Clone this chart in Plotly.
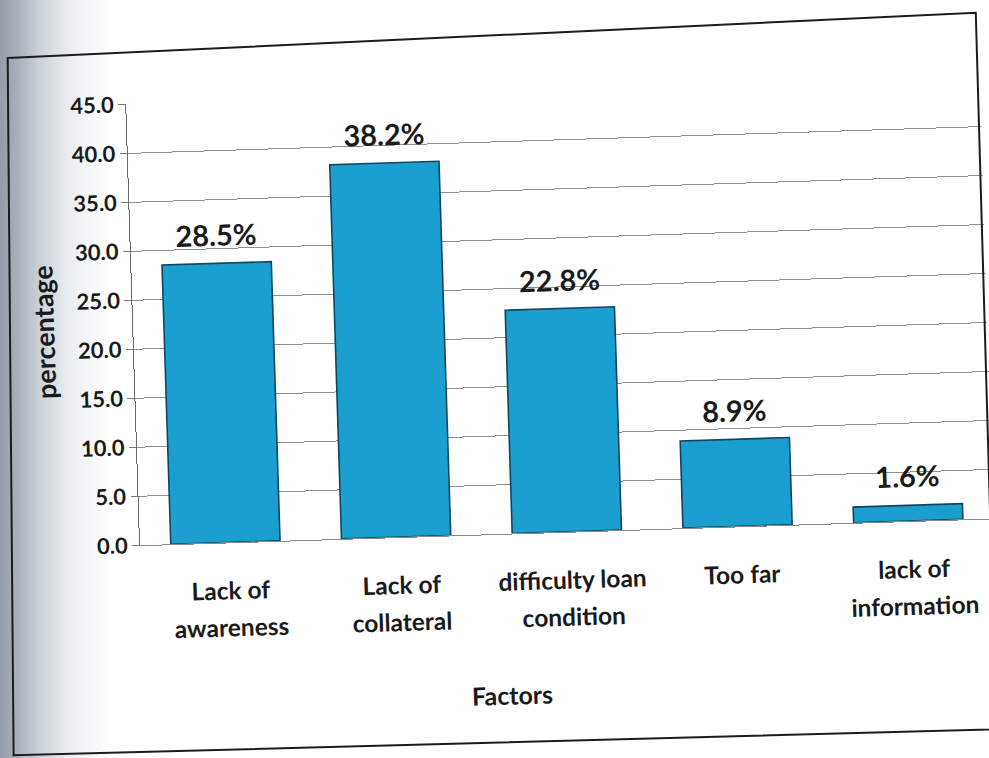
import plotly.graph_objects as go

# Survey results: factors limiting access to credit
categories = ["Lack of<br>awareness", "Lack of<br>collateral", "difficulty loan<br>condition",
              "Too far", "lack of<br>information"]
values = [28.5, 38.2, 22.8, 8.9, 1.6]
y_ticks = [0, 5, 10, 15, 20, 25, 30, 35, 40, 45]
y_title = "percentage"
x_title = "Factors"

W, H = 989, 758
ML, MR, MT, MB = 135, 0, 93, 224
PW, PH = W - ML - MR, H - MT - MB

FONT = "Lato, 'Open Sans', sans-serif"
BAR_FILL = "#1b9fd0"
BAR_EDGE = "#11465d"
INK = "#1a1a1a"


def px_x(px):
    return (px - ML) / PW


def px_y(py):
    return (H - MB - py) / PH


fig = go.Figure()
fig.add_trace(go.Bar(
    x=categories,
    y=values,
    marker=dict(color=BAR_FILL, line=dict(color=BAR_EDGE, width=1.6)),
    hoverinfo="skip",
))

annotations = []
# value labels above each bar
for cat, v in zip(categories, values):
    annotations.append(dict(
        x=cat, y=v, xref="x", yref="y", text=f"{v:.1f}%", showarrow=False,
        yanchor="bottom", yshift=10,
        font=dict(family=FONT, size=29, color=INK, weight="bold"),
    ))
# category names drawn line by line under the axis
for cat in categories:
    for j, line in enumerate(cat.split("<br>")):
        annotations.append(dict(
            x=cat, y=0, xref="x", yref="y", text=line, showarrow=False,
            yanchor="middle", yshift=-(47 + 37 * j), xshift=4,
            font=dict(family=FONT, size=24.5, color=INK, weight="bold"),
        ))
annotations.append(dict(
    x=px_x(502), y=px_y(695), xref="paper", yref="paper", text=x_title,
    showarrow=False, xanchor="center", yanchor="middle",
    font=dict(family=FONT, size=25, color=INK, weight="bold"),
))
annotations.append(dict(
    x=px_x(45), y=px_y(318), xref="paper", yref="paper", text=y_title,
    showarrow=False, textangle=-90, xanchor="center", yanchor="middle",
    font=dict(family=FONT, size=27, color=INK, weight="bold"),
))

# chart-area border
corners = [(18, 43), (987, 28), (985, 745), (2, 740)]
path = "M " + " L ".join(f"{px_x(x):.4f},{px_y(y):.4f}" for x, y in corners) + " Z"
shapes = [dict(type="path", xref="paper", yref="paper", path=path,
               line=dict(color="#1c1c1c", width=2), layer="above")]

fig.update_layout(
    width=W, height=H,
    margin=dict(l=ML, r=MR, t=MT, b=MB),
    paper_bgcolor="rgba(0,0,0,0)", plot_bgcolor="white",
    showlegend=False,
    bargap=0.36,
    font=dict(family=FONT, color=INK),
    annotations=annotations,
    shapes=shapes,
    xaxis=dict(
        showticklabels=False, ticks="", showgrid=False,
        showline=True, linecolor="#8a8a8a", linewidth=1,
        fixedrange=True,
    ),
    yaxis=dict(
        range=[0, 45], tickvals=y_ticks, tickformat=".1f",
        showgrid=True, gridcolor="#8f8f8f", gridwidth=1,
        showline=True, linecolor="#6a6a6a", linewidth=1,
        ticks="outside", ticklen=7, tickcolor="#7a7a7a",
        tickfont=dict(family=FONT, size=22, color=INK, weight="bold"),
        zeroline=False, fixedrange=True,
    ),
)

# page background with the shaded binding gutter on the left; chart tilted slightly
fig.write_html(
    "out.html",
    config={"displayModeBar": False},
    post_script=(
        "document.body.style.background='linear-gradient(to right,#939ca7 0px,#a9b1ba 18px,"
        "#c9cfd6 38px,#e4e8ec 62px,#f6f7f9 88px,#ffffff 112px)';"
        "var d=document.getElementById('{plot_id}');"
        "d.style.transformOrigin='50% 50%';d.style.transform='rotate(-1.8deg)';"
    ),
)
